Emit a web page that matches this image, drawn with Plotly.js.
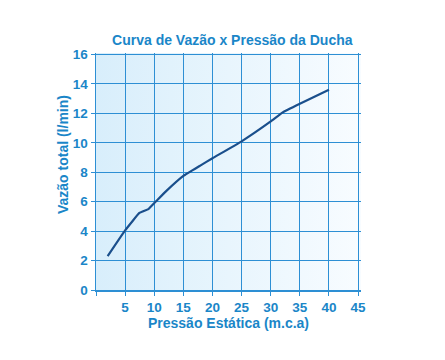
<!DOCTYPE html>
<html>
<head>
<meta charset="utf-8">
<script src="https://cdn.plot.ly/plotly-3.0.1.min.js"></script>
<style>
html,body{margin:0;padding:0;background:#fff;}
#chart{width:445px;height:360px;}
</style>
</head>
<body>
<div id="chart"></div>
<script>
const pressao = [2, 5, 7.5, 9, 10.5, 12, 15, 17.9, 20, 25, 30, 32, 35, 40];
const vazao = [2.3, 4.05, 5.25, 5.5, 6.1, 6.7, 7.75, 8.45, 8.95, 10.1, 11.45, 12.05, 12.65, 13.6];
const xTicks = [0, 5, 10, 15, 20, 25, 30, 35, 40, 45];
const xTickLabels = ['', '5', '10', '15', '20', '25', '30', '35', '40', '45'];
const yTicks = [0, 2, 4, 6, 8, 10, 12, 14, 16];

const blue = '#1a86c8';
const grid = '#2d8fd4';

const gradSvg = '<svg xmlns="http://www.w3.org/2000/svg" width="100" height="100" preserveAspectRatio="none">' +
  '<defs><linearGradient id="g" x1="0" y1="0" x2="1" y2="0">' +
  '<stop offset="0" stop-color="#d8eefb"/><stop offset="1" stop-color="#f8fcff"/></linearGradient></defs>' +
  '<rect width="100" height="100" fill="url(#g)"/></svg>';
const gradUri = 'data:image/svg+xml;base64,' + btoa(gradSvg);

const trace = {
  x: pressao, y: vazao, type: 'scatter', mode: 'lines',
  line: {color: '#1a4f8c', width: 2.2, shape: 'spline', smoothing: 0.3},
  hoverinfo: 'skip'
};

const fam = 'Liberation Sans, Arial, sans-serif';

const layout = {
  width: 445, height: 360,
  margin: {l: 96, r: 84, t: 53, b: 70},
  paper_bgcolor: '#ffffff',
  plot_bgcolor: 'rgba(0,0,0,0)',
  showlegend: false,
  font: {family: fam, color: blue},
  title: {
    text: '<b>Curva de Vazão x Pressão da Ducha</b>',
    font: {size: 14, color: blue, family: fam},
    x: 0.522, xanchor: 'center', y: 0.888, yanchor: 'middle'
  },
  xaxis: {
    range: [0, 45.5], tickvals: xTicks, ticktext: xTickLabels,
    showgrid: true, gridcolor: grid, gridwidth: 1,
    showline: true, linecolor: grid, linewidth: 1.5,
    ticks: 'outside', ticklen: 4, tickcolor: grid,
    zeroline: false,
    tickfont: {size: 13.5, color: blue, family: fam, weight: 'bold'},
    title: {text: '<b>Pressão Estática (m.c.a)</b>', font: {size: 14, color: blue, family: fam}, standoff: 3},
    fixedrange: true
  },
  yaxis: {
    range: [0, 16.1], tickvals: yTicks,
    showgrid: true, gridcolor: grid, gridwidth: 1,
    showline: true, linecolor: grid, linewidth: 1.5,
    ticks: 'outside', ticklen: 4, tickcolor: grid,
    zeroline: false,
    tickfont: {size: 13.5, color: blue, family: fam, weight: 'bold'},
    fixedrange: true
  },
  annotations: [{
    text: '<b>Vazão total (l/min)</b>', xref: 'paper', yref: 'paper',
    x: -0.125, y: 0.573, xanchor: 'center', yanchor: 'middle',
    textangle: -90, showarrow: false,
    font: {size: 14, color: blue, family: fam}
  }],
  images: [{
    source: gradUri, xref: 'paper', yref: 'paper',
    x: 0, y: 1, sizex: 1, sizey: 1, xanchor: 'left', yanchor: 'top',
    sizing: 'stretch', layer: 'below'
  }]
};

Plotly.newPlot('chart', [trace], layout, {displayModeBar: false, staticPlot: true});
</script>
</body>
</html>
